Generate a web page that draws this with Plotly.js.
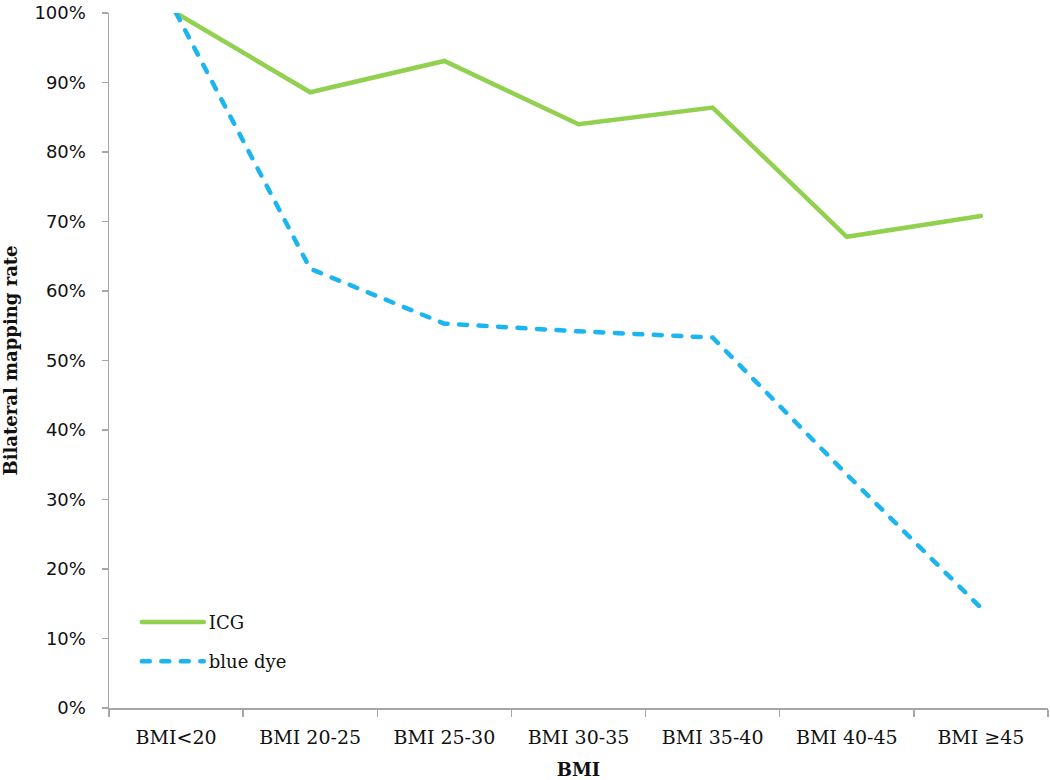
<!DOCTYPE html>
<html>
<head>
<meta charset="utf-8">
<script src="https://cdn.plot.ly/plotly-3.0.1.min.js"></script>
<style>
html,body{margin:0;padding:0;background:#fff;}
#chart{width:1050px;height:780px;}
#chart .scatterlayer path.js-line, #chart .legend path.js-line{stroke-linecap: round;}
</style>
</head>
<body>
<div id="chart"></div>
<script>
var categories = ["BMI<20", "BMI 20-25", "BMI 25-30", "BMI 30-35", "BMI 35-40", "BMI 40-45", "BMI \u226545"];
var icgValues = [1.00, 0.886, 0.931, 0.840, 0.864, 0.678, 0.708];
var blueDyeValues = [1.00, 0.632, 0.553, 0.542, 0.533, 0.336, 0.144];
var yTickValues = [0, 0.1, 0.2, 0.3, 0.4, 0.5, 0.6, 0.7, 0.8, 0.9, 1.0];
var yTickLabels = ["0%", "10%", "20%", "30%", "40%", "50%", "60%", "70%", "80%", "90%", "100%"];

var traces = [
  {
    x: categories, y: icgValues, name: "ICG", type: "scatter", mode: "lines",
    line: {color: "#92D050", width: 4.5},
    legendgroup: "a"
  },
  {
    x: categories, y: blueDyeValues, name: "blue dye", type: "scatter", mode: "lines",
    line: {color: "#1CB5F0", width: 4.5, dash: "8px,11.5px"},
    legendgroup: "b"
  }
];

var layout = {
  width: 1050, height: 780,
  margin: {l: 109, r: 2, t: 13, b: 72},
  paper_bgcolor: "#ffffff", plot_bgcolor: "#ffffff",
  showlegend: true,
  legend: {
    x: 0.0296, y: 0.150, xanchor: "left", yanchor: "top",
    bgcolor: "rgba(0,0,0,0)",
    font: {family: "DejaVu Serif", size: 18, color: "#111"},
    itemwidth: 62,
    traceorder: "grouped",
    tracegroupgap: 13
  },
  xaxis: {
    type: "category",
    range: [-0.5, 6.5],
    showgrid: false, zeroline: false,
    showline: true, linecolor: "#A6A6A6", linewidth: 1.5,
    ticks: "outside", tickson: "boundaries", ticklen: 7, tickcolor: "#A6A6A6", tickwidth: 1.5,
    tickfont: {family: "DejaVu Serif", size: 19, color: "#111"},
    ticklabelstandoff: 12,
    title: {text: "<b>BMI</b>", font: {family: "DejaVu Serif", size: 18, color: "#111"}, standoff: 16}
  },
  yaxis: {
    range: [0, 1.0],
    showgrid: false, zeroline: false,
    showline: true, linecolor: "#A6A6A6", linewidth: 1.5,
    ticks: "outside", ticklen: 6, tickcolor: "#A6A6A6", tickwidth: 1.5,
    tickvals: yTickValues, ticktext: yTickLabels,
    tickfont: {family: "DejaVu Sans", size: 18, color: "#111"},
    ticklabelstandoff: 12,
    ticklabeloverflow: "allow",
    title: {text: "<b>Bilateral mapping rate</b>", font: {family: "DejaVu Serif", size: 18, color: "#111"}, standoff: 22}
  }
};

Plotly.newPlot("chart", traces, layout, {displayModeBar: false, staticPlot: true});
</script>
</body>
</html>
